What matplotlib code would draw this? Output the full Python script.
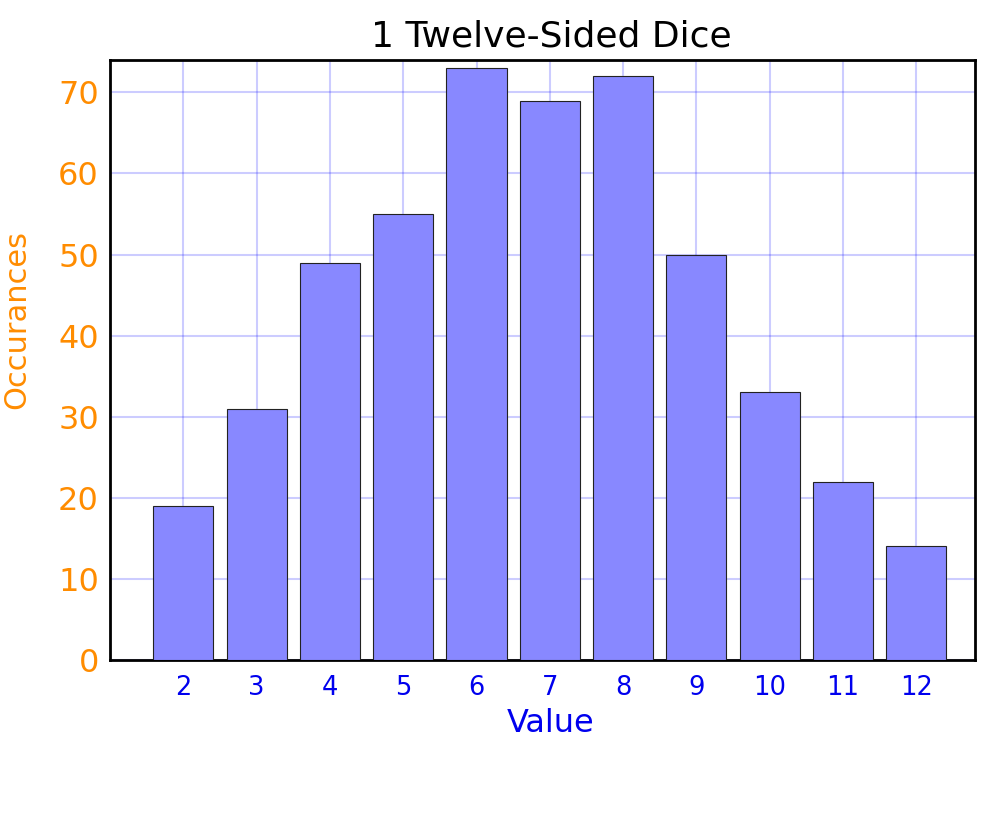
import numpy as np
from matplotlib import pyplot as plt

values = [2, 3, 4, 5, 6, 7, 8, 9, 10, 11, 12]
counts = [19, 31, 49, 55, 73, 69, 72, 50, 33, 22, 14]

fig = plt.figure(figsize=(10, 8.4), dpi=100)
ax = fig.add_axes([0.11, 0.2143, 0.865, 0.7143])

ax.bar(values, counts, width=0.82, color="#8888ff", edgecolor="#222222", linewidth=0.8, zorder=3)

ax.set_xlim(1, 12.8)
ax.set_ylim(0, 74)
ax.set_xticks(values)
ax.set_yticks(np.arange(0, 71, 10))
ax.grid(True, color="#0000ff", alpha=0.2, linewidth=1.5, zorder=0)
ax.tick_params(length=0)
ax.tick_params(axis="x", labelcolor="#0000ee", labelsize=18.5, pad=11)
ax.tick_params(axis="y", labelcolor="#ff8c00", labelsize=23, pad=8)
for s in ax.spines.values():
    s.set_linewidth(2)

ax.set_title("1 Twelve-Sided Dice", fontsize=26, pad=10, x=0.51)
ax.set_xlabel("Value", color="#0000ee", fontsize=23, labelpad=5)
ax.set_ylabel("Occurances", color="#ff8c00", fontsize=22, labelpad=19)
ax.xaxis.label.set_x(0.509)
ax.yaxis.label.set_y(0.568)

plt.savefig("out.png")
